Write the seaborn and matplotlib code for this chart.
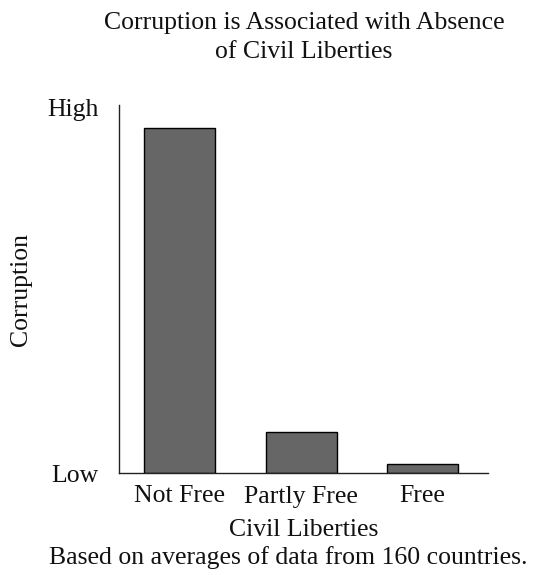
import pandas as pd
import matplotlib.pyplot as plt
import seaborn as sns

# data (relative corruption level, 0 = Low, 1 = High)
liberties = ['Not Free', 'Partly Free', 'Free']
corruption = [0.937, 0.111, 0.025]

df = pd.DataFrame({'Civil Liberties': liberties, 'Corruption': corruption})

sns.set_style('white')
plt.rcParams['font.family'] = ['Liberation Serif', 'DejaVu Serif']
fs = 18.5
ink = '#111111'

fig = plt.figure(figsize=(5.35, 5.75), dpi=100)
ax = fig.add_axes([119 / 535, 1 - 473 / 575, (488 - 119) / 535, (473 - 105) / 575])

sns.barplot(data=df, x='Civil Liberties', y='Corruption', color='#666666',
            saturation=1, edgecolor='black', linewidth=1.0, width=0.584, ax=ax)

ax.set_xlim(-0.5, 2.54)
ax.set_ylim(0, 1)
ax.set_yticks([0, 0.993])
ax.set_yticklabels(['Low', 'High'])
ax.tick_params(axis='both', length=0, labelsize=fs, colors=ink)
ax.tick_params(axis='y', pad=15)
ax.tick_params(axis='x', pad=9)

sns.despine(ax=ax)
for s in ['left', 'bottom']:
    ax.spines[s].set_color('#222222')
    ax.spines[s].set_linewidth(1.0)

ax.set_xlabel('Civil Liberties', fontsize=fs, color=ink)
ax.xaxis.set_label_coords(0.5, (473 - 519) / 368)
ax.set_ylabel('Corruption', fontsize=fs, color=ink)
ax.yaxis.set_label_coords((32 - 119) / 369, 0.5)

# two-line title, placed line by line
fig.text(304 / 535, 1 - 29 / 575, 'Corruption is Associated with Absence',
         ha='center', va='baseline', fontsize=fs, color=ink)
fig.text(304 / 535, 1 - 58 / 575, 'of Civil Liberties',
         ha='center', va='baseline', fontsize=fs, color=ink)
fig.text(288 / 535, 1 - 564 / 575, 'Based on averages of data from 160 countries.',
         ha='center', va='baseline', fontsize=fs, color=ink)

fig.savefig('out.png', dpi=100)
